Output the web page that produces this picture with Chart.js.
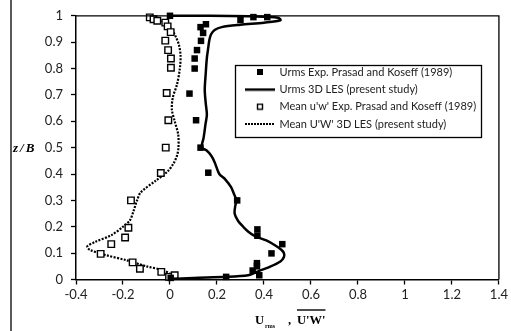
<!DOCTYPE html>
<html><head><meta charset="utf-8">
<script src="https://cdn.jsdelivr.net/npm/chart.js@4/dist/chart.umd.min.js"></script>
<style>html,body{margin:0;padding:0;background:#fff;overflow:hidden}</style>
</head><body>
<canvas id="c" width="511" height="331"></canvas>
<script>
// ---- data ----
const urmsExpX = [0.0, 0.355, 0.414, 0.30, 0.153, 0.13, 0.141, 0.132, 0.115, 0.105, 0.105, 0.083, 0.111, 0.13, 0.163, 0.286, 0.372, 0.372, 0.478, 0.432, 0.37, 0.37, 0.352, 0.38, 0.239, 0.003];
const urmsExpZ = [1.0, 0.995, 0.995, 0.984, 0.968, 0.957, 0.935, 0.905, 0.870, 0.838, 0.800, 0.705, 0.604, 0.500, 0.405, 0.300, 0.190, 0.166, 0.134, 0.099, 0.062, 0.050, 0.034, 0.016, 0.010, 0.006];

const urmsLesX = [0.0, 0.10, 0.24, 0.333, 0.36, 0.38, 0.42, 0.47, 0.485, 0.485, 0.475, 0.45, 0.41, 0.36, 0.335, 0.315, 0.29, 0.275, 0.278, 0.283, 0.272, 0.26, 0.235, 0.21, 0.19, 0.175, 0.155, 0.135, 0.143, 0.151, 0.157, 0.152, 0.148, 0.152, 0.157, 0.163, 0.168, 0.175, 0.19, 0.22, 0.30, 0.40, 0.47, 0.46, 0.35, 0.15, 0.0];
const urmsLesZ = [0.002, 0.006, 0.010, 0.016, 0.025, 0.033, 0.046, 0.068, 0.085, 0.100, 0.112, 0.128, 0.148, 0.165, 0.180, 0.197, 0.222, 0.250, 0.280, 0.300, 0.325, 0.350, 0.380, 0.400, 0.445, 0.470, 0.490, 0.500, 0.537, 0.588, 0.625, 0.670, 0.720, 0.780, 0.840, 0.880, 0.910, 0.930, 0.946, 0.957, 0.966, 0.974, 0.983, 0.993, 0.998, 1.0, 1.0];

const uwExpX = [-0.086, -0.070, -0.054, -0.020, -0.010, 0.003, -0.020, -0.008, 0.004, 0.004, -0.014, -0.007, -0.018, -0.039, -0.166, -0.177, -0.191, -0.250, -0.295, -0.159, -0.128, -0.037, -0.004, 0.020];
const uwExpZ = [0.994, 0.987, 0.981, 0.974, 0.960, 0.938, 0.906, 0.870, 0.838, 0.803, 0.707, 0.604, 0.500, 0.404, 0.300, 0.196, 0.159, 0.134, 0.097, 0.065, 0.041, 0.029, 0.010, 0.016];

const uwLesX = [0.0, 0.01, -0.03, -0.10, -0.185, -0.28, -0.34, -0.352, -0.32, -0.25, -0.20, -0.17, -0.155, -0.142, -0.125, -0.06, -0.01, 0.015, 0.03, 0.036, 0.035, 0.02, 0.008, 0.012, 0.03, 0.042, 0.045, 0.038, 0.025, 0.01, -0.01, -0.03, -0.055, -0.09];
const uwLesZ = [0.0, 0.015, 0.035, 0.050, 0.073, 0.094, 0.112, 0.125, 0.142, 0.168, 0.200, 0.225, 0.260, 0.295, 0.330, 0.375, 0.410, 0.440, 0.470, 0.500, 0.550, 0.600, 0.645, 0.690, 0.740, 0.800, 0.850, 0.890, 0.920, 0.945, 0.965, 0.978, 0.988, 0.996];

const seriesNames = [
  "Urms Exp. Prasad and Koseff (1989)",
  "Urms 3D LES (present study)",
  "Mean u'w' Exp. Prasad and Koseff (1989)",
  "Mean U'W' 3D LES (present study)"
];
const xTicks = [-0.4, -0.2, 0, 0.2, 0.4, 0.6, 0.8, 1, 1.2, 1.4];
const yTicks = [0, 0.1, 0.2, 0.3, 0.4, 0.5, 0.6, 0.7, 0.8, 0.9, 1];
const yTitle = "z/B";
const xTitleMain = "U";
const xTitleSub = "rms";
const xTitleSep = ",";
const xTitle2 = "U'W'";

const pts = (xs, zs) => xs.map((x, i) => ({x: x, y: zs[i]}));

// legend marker images
function mk(draw) {
  const c = document.createElement('canvas');
  c.width = 30; c.height = 8;
  const g = c.getContext('2d');
  g.fillStyle = '#000'; g.strokeStyle = '#000';
  draw(g);
  return c;
}
const mkFilled = mk(g => g.fillRect(12, 1, 6, 6));
const mkLine = mk(g => g.fillRect(0, 3, 30, 2.5));
const mkOpen = mk(g => { g.lineWidth = 1.4; g.strokeRect(12.5, 1.5, 5, 5); });
const mkDots = mk(g => { for (let x = 0; x < 30; x += 3) g.fillRect(x, 3, 2, 2); });
const markers = [mkFilled, mkLine, mkOpen, mkDots];

const TXT = '#222';
const tickFont = {family: 'Lato', size: 13};
const LG_FONT = 11, LG_PAD = 6.33;

const decor = {
  id: 'decor',
  afterUpdate(chart) {
    const lg = chart.legend;
    if (!lg) return;
    lg.left = 246 - LG_PAD; lg.top = 72 - LG_FONT / 2 - LG_PAD;
    lg.fit();
    lg.right = lg.left + lg.width;
    lg.bottom = lg.top + 200;
    lg.adjustHitBoxes();
  },
  beforeDraw(chart) {
    const ctx = chart.ctx;
    ctx.save();
    ctx.fillStyle = '#fff';
    ctx.fillRect(0, 0, chart.width, chart.height);
    ctx.strokeStyle = '#000'; ctx.lineWidth = 1.3;
    ctx.beginPath(); ctx.moveTo(11, 0); ctx.lineTo(11, chart.height); ctx.stroke();
    ctx.lineWidth = 1.3;
    ctx.strokeRect(235.5, 65.5, 246, 72);
    ctx.restore();
  },
  afterDraw(chart) {
    const ctx = chart.ctx, a = chart.chartArea;
    ctx.save();
    ctx.strokeStyle = '#000'; ctx.lineWidth = 1.3;
    ctx.beginPath();
    ctx.moveTo(a.left, a.top); ctx.lineTo(a.right, a.top); ctx.lineTo(a.right, a.bottom);
    ctx.stroke();
    ctx.fillStyle = '#000';
    ctx.font = "italic bold 13px 'Liberation Serif'";
    ctx.textBaseline = 'middle'; ctx.textAlign = 'left';
    try { ctx.letterSpacing = '2px'; } catch (e) {}
    ctx.fillText(yTitle, 13, (a.top + a.bottom) / 2 + 0.5);
    try { ctx.letterSpacing = '0px'; } catch (e) {}
    const cy = 321;
    ctx.font = "bold 12.5px 'Liberation Serif'";
    const w2 = ctx.measureText(xTitle2).width;
    let x = 255;
    ctx.fillText(xTitleMain, x, cy);
    x += ctx.measureText(xTitleMain).width + 1;
    ctx.font = "bold 6px 'Liberation Serif'";
    ctx.fillText(xTitleSub, x, cy + 5);
    ctx.font = "bold 12.5px 'Liberation Serif'";
    ctx.fillText(xTitleSep, 288, cy);
    x = 297;
    ctx.fillText(xTitle2, x, cy);
    ctx.lineWidth = 1.4;
    ctx.beginPath(); ctx.moveTo(x, 310); ctx.lineTo(x + w2, 310); ctx.stroke();
    ctx.restore();
  }
};

new Chart(document.getElementById('c'), {
  type: 'scatter',
  data: {
    datasets: [
      {label: seriesNames[0], data: pts(urmsExpX, urmsExpZ), showLine: false, pointStyle: 'rect', pointRadius: 4.6, pointHoverRadius: 4.6, backgroundColor: '#000', borderColor: '#000', borderWidth: 0, clip: false},
      {label: seriesNames[1], data: pts(urmsLesX, urmsLesZ), showLine: true, pointRadius: 0, borderColor: '#000', backgroundColor: '#000', borderWidth: 2.5, tension: 0.3, clip: false},
      {label: seriesNames[2], data: pts(uwExpX, uwExpZ), showLine: false, pointStyle: 'rect', pointRadius: 4.6, pointHoverRadius: 4.6, backgroundColor: '#fff', borderColor: '#000', borderWidth: 1.4, clip: false},
      {label: seriesNames[3], data: pts(uwLesX, uwLesZ), showLine: true, pointRadius: 0, borderColor: '#000', borderWidth: 2.2, borderDash: [2, 1.4], tension: 0.3, clip: false}
    ]
  },
  options: {
    responsive: false,
    animation: false,
    devicePixelRatio: 1,
    layout: {padding: {left: 0, right: 9, top: 13, bottom: 0}},
    scales: {
      x: {
        type: 'linear', min: -0.4, max: 1.4,
        afterBuildTicks: s => { s.ticks = xTicks.map(v => ({value: v})); },
        afterFit: s => { s.height = 51.5; },
        ticks: {font: tickFont, color: TXT, padding: 3, callback: v => String(Math.round(v * 10) / 10)},
        grid: {display: true, drawOnChartArea: false, drawTicks: true, tickLength: 5, tickColor: '#000', tickWidth: 1.3},
        border: {display: true, color: '#000', width: 1.5}
      },
      y: {
        type: 'linear', min: 0, max: 1,
        afterBuildTicks: s => { s.ticks = yTicks.map(v => ({value: v})); },
        afterFit: s => { s.width = 76; },
        ticks: {font: tickFont, color: TXT, padding: 8, callback: v => String(Math.round(v * 10) / 10)},
        grid: {display: true, drawOnChartArea: false, drawTicks: true, tickLength: 5, tickColor: '#000', tickWidth: 1.3},
        border: {display: true, color: '#000', width: 1.5}
      }
    },
    plugins: {
      tooltip: {enabled: false},
      legend: {
        position: 'chartArea',
        align: 'start',
        labels: {
          font: {family: 'Lato', size: LG_FONT},
          color: TXT,
          usePointStyle: true,
          pointStyleWidth: 28,
          padding: LG_PAD,
          generateLabels: chart => chart.data.datasets.map((d, i) => ({
            text: d.label, pointStyle: markers[i], fillStyle: '#000', strokeStyle: '#000',
            lineWidth: 0, hidden: false, datasetIndex: i, fontColor: TXT
          }))
        }
      }
    }
  },
  plugins: [decor]
});
</script>
</body></html>
